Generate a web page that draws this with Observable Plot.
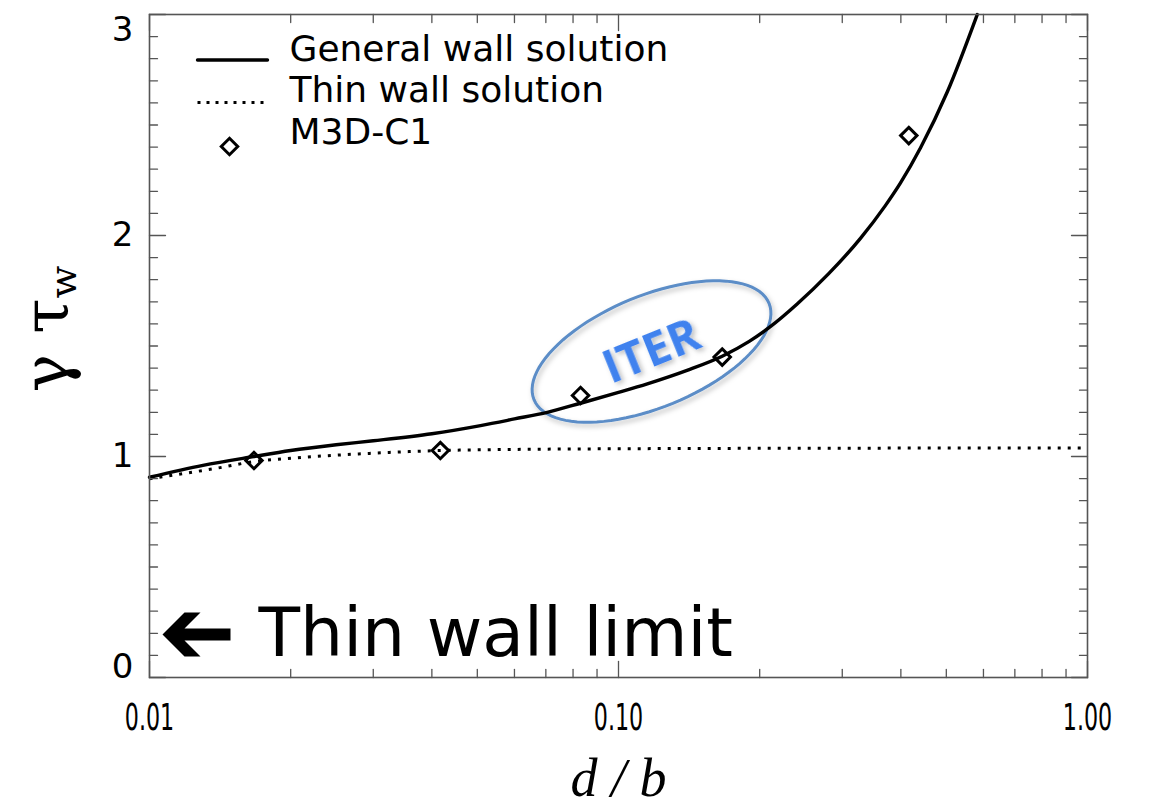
<!DOCTYPE html>
<html>
<head>
<meta charset="utf-8">
<script src="https://cdn.jsdelivr.net/npm/d3@7"></script>
<script src="https://cdn.jsdelivr.net/npm/@observablehq/plot@0.6"></script>
<style>
  html, body { margin: 0; padding: 0; background: #fff; }
  #chart { width: 1156px; height: 809px; }
</style>
</head>
<body>
<div id="chart"></div>
<script>
// Resistive-wall-mode growth rate γτ_w versus wall thickness d/b

// General (finite-thickness) wall solution
const generalD = [0.01, 0.013, 0.0167, 0.02, 0.025, 0.03, 0.04, 0.0508, 0.06, 0.0705, 0.083, 0.1, 0.1152, 0.14, 0.1664, 0.19, 0.21, 0.2404, 0.28, 0.328, 0.37, 0.399, 0.4406, 0.502, 0.582];
const generalG = [0.906, 0.96, 1.0, 1.027, 1.053, 1.071, 1.103, 1.14, 1.17, 1.2, 1.241, 1.29, 1.329, 1.39, 1.454, 1.521, 1.585, 1.69, 1.825, 1.987, 2.133, 2.237, 2.397, 2.648, 3.0];

// Thin wall solution
const thinD = [0.01, 0.012, 0.014, 0.0167, 0.02, 0.025, 0.03, 0.0417, 0.06, 0.1, 0.2, 0.5, 1.0];
const thinG = [0.899, 0.925, 0.948, 0.977, 0.992, 1.006, 1.015, 1.027, 1.032, 1.035, 1.037, 1.038, 1.038];

// M3D-C1 simulation results
const m3dD = [0.0167, 0.0417, 0.083, 0.1664, 0.4159];
const m3dG = [0.982, 1.027, 1.276, 1.45, 2.452];

// Axis ticks
const xMajor = [0.01, 0.1, 1];
const xMinor = [0.02, 0.03, 0.04, 0.05, 0.06, 0.07, 0.08, 0.09, 0.2, 0.3, 0.4, 0.5, 0.6, 0.7, 0.8, 0.9];
const yMajor = [0, 1, 2, 3];
const yMinor = d3.range(1, 30).filter(i => i % 10 !== 0).map(i => i / 10);

// Legend and annotations
const legendLabels = ["General wall solution", "Thin wall solution", "M3D-C1"];
const iterSpot = [{d: 0.1176, g: 1.475, label: "ITER"}];
const limitLabel = ["Thin wall limit"];

const general = generalD.map((d, i) => ({d, g: generalG[i]}));
const thin = thinD.map((d, i) => ({d, g: thinG[i]}));
const m3d = m3dD.map((d, i) => ({d, g: m3dG[i]}));

const frameColor = "#555";
const iterRing = "#5b8dc7";
const sansFont = "'DejaVu Sans', sans-serif";

// A straight stroke from the anchor in the vector's direction (inward ticks, legend swatches)
const stroke = { draw(ctx, l) { ctx.moveTo(0, 0); ctx.lineTo(0, -l); } };
// A solid block arrow (shaft plus chevron head) pointing along the vector
const blockArrow = {
  draw(ctx, l) {
    const s = l / 68;
    const P = [[0, 68], [22, 46], [22, 30], [6, 46], [6, 0], [-6, 0], [-6, 46], [-22, 30], [-22, 46]];
    P.forEach(([v, u], i) => (i ? ctx.lineTo(v * s, -u * s) : ctx.moveTo(v * s, -u * s)));
    ctx.closePath();
  }
};
// Tilted ellipse outline around the ITER cases
const ellipse = {
  draw(ctx) {
    const a = 127, b = 56, th = -22.3 * Math.PI / 180, n = 96;
    for (let i = 0; i <= n; ++i) {
      const t = (2 * Math.PI * i) / n;
      const x = a * Math.cos(t) * Math.cos(th) - b * Math.sin(t) * Math.sin(th);
      const y = a * Math.cos(t) * Math.sin(th) + b * Math.sin(t) * Math.cos(th);
      i ? ctx.lineTo(x, y) : ctx.moveTo(x, y);
    }
    ctx.closePath();
  }
};

const tickOpts = {shape: stroke, anchor: "start", stroke: frameColor, strokeWidth: 1.3};
const yLabelOpts = {anchor: "left", tickSize: 0, tickPadding: 16, tickFormat: d3.format("d"), fontSize: 34, fontFamily: sansFont, label: null};

const chart = Plot.plot({
  width: 1156,
  height: 809,
  marginLeft: 149,
  marginRight: 69,
  marginTop: 14,
  marginBottom: 132,
  x: {type: "log", domain: [0.01, 1], label: null, axis: null},
  y: {domain: [0, 3], label: null},
  style: {background: "white", color: "black", overflow: "visible"},
  marks: [
    // ITER ellipse
    Plot.dot(iterSpot, {x: "d", y: "g", symbol: ellipse, fill: "none", stroke: iterRing, strokeWidth: 3}),

    // curves and simulation points
    Plot.line(thin, {x: "d", y: "g", stroke: "black", strokeWidth: 3, strokeDasharray: "3,7", strokeLinecap: "butt", curve: "monotone-x"}),
    Plot.line(general, {x: "d", y: "g", stroke: "black", strokeWidth: 3.4, curve: "monotone-x"}),
    Plot.dot(m3d, {x: "d", y: "g", symbol: "diamond2", r: 7.4, stroke: "black", strokeWidth: 3, fill: "none"}),

    // ITER label
    Plot.text(iterSpot, {x: "d", y: "g", text: "label", rotate: -22, fontSize: 47, fontWeight: 700, fontFamily: "'Open Sans', sans-serif", fill: "#3f82ee"}),

    // frame and inward ticks on all four sides
    Plot.frame({stroke: frameColor, strokeWidth: 1.6}),
    Plot.vector(xMinor, {x: d => d, frameAnchor: "bottom", length: 8, ...tickOpts}),
    Plot.vector(xMajor, {x: d => d, frameAnchor: "bottom", length: 16, ...tickOpts}),
    Plot.vector(xMinor, {x: d => d, frameAnchor: "top", rotate: 180, length: 8, ...tickOpts}),
    Plot.vector(xMajor, {x: d => d, frameAnchor: "top", rotate: 180, length: 16, ...tickOpts}),
    Plot.vector(yMinor, {y: d => d, frameAnchor: "left", rotate: 90, length: 8, ...tickOpts}),
    Plot.vector(yMajor, {y: d => d, frameAnchor: "left", rotate: 90, length: 16, ...tickOpts}),
    Plot.vector(yMinor, {y: d => d, frameAnchor: "right", rotate: -90, length: 8, ...tickOpts}),
    Plot.vector(yMajor, {y: d => d, frameAnchor: "right", rotate: -90, length: 16, ...tickOpts}),

    // tick labels
    Plot.text(xMajor, {x: d => d, text: d3.format(".2f"), frameAnchor: "bottom", dy: 26, lineAnchor: "top", fontSize: 37, fontFamily: sansFont}),
    Plot.axisY([1, 2], yLabelOpts),
    Plot.axisY([3], {...yLabelOpts, dy: 16}),
    Plot.axisY([0], {...yLabelOpts, dy: -10}),

    // x-axis title
    Plot.text(["d / b"], {frameAnchor: "bottom", dy: 118, fontSize: 54, fontStyle: "italic", fontFamily: "'Liberation Serif', 'DejaVu Serif', serif"}),

    // legend
    Plot.vector([legendLabels[0]], {frameAnchor: "top-left", dx: 48, dy: 45.5, rotate: 90, length: 70, anchor: "start", shape: stroke, stroke: "black", strokeWidth: 3.4}),
    Plot.vector([legendLabels[1]], {frameAnchor: "top-left", dx: 48, dy: 88, rotate: 90, length: 70, anchor: "start", shape: stroke, stroke: "black", strokeWidth: 3, strokeDasharray: "3,6", strokeLinecap: "butt"}),
    Plot.dot([legendLabels[2]], {frameAnchor: "top-left", dx: 80, dy: 132, symbol: "diamond2", r: 7.4, stroke: "black", strokeWidth: 3, fill: "none"}),
    ...legendLabels.map((label, i) =>
      Plot.text([label], {frameAnchor: "top-left", dx: 140, dy: 46 + i * 41.7, textAnchor: "start", lineAnchor: "bottom", fontSize: 36, letterSpacing: 2.9, fontFamily: sansFont})
    ),

    // thin-wall-limit annotation
    Plot.vector(limitLabel, {frameAnchor: "bottom-left", dx: 81, dy: -43, rotate: -90, length: 68, anchor: "start", shape: blockArrow, fill: "black", stroke: "none"}),
    Plot.text(limitLabel, {frameAnchor: "bottom-left", dx: 109, dy: -22, textAnchor: "start", lineAnchor: "bottom", fontSize: 68, fontFamily: sansFont})
  ]
});

document.getElementById("chart").appendChild(chart);

const svg = d3.select(chart);

// soft drop shadow for the ITER highlight
const defs = svg.insert("defs", ":first-child");
defs.append("filter").attr("id", "soft-shadow").attr("x", "-20%").attr("y", "-20%").attr("width", "140%").attr("height", "140%")
  .append("feDropShadow").attr("dx", 2).attr("dy", 3).attr("stdDeviation", 2.5).attr("flood-color", "#000").attr("flood-opacity", 0.25);
svg.selectAll(`g[stroke="${iterRing}"]`).attr("filter", "url(#soft-shadow)");
svg.selectAll("text").filter(function () { return this.textContent === "ITER"; }).attr("filter", "url(#soft-shadow)");

// narrow the x tick labels horizontally
svg.selectAll("text").filter(function () { return /^\d\.\d\d$/.test(this.textContent); }).each(function () {
  const t = this.getAttribute("transform") || "";
  const x = this.getAttribute("x");
  if (x && +x) {
    this.removeAttribute("x");
    this.setAttribute("transform", `${t} translate(${x},0) scale(0.6,1)`);
  } else {
    this.setAttribute("transform", `${t} scale(0.6,1)`);
  }
});

// y-axis title γτ_w
const ytitle = svg.append("text")
  .attr("transform", "translate(68,329) rotate(-90)")
  .attr("text-anchor", "middle")
  .attr("font-family", "'DejaVu Serif', serif")
  .attr("font-size", 64)
  .attr("fill", "black");
ytitle.append("tspan").text("γ τ");
ytitle.append("tspan").attr("font-size", 38).attr("dy", 8).text("w");
</script>
</body>
</html>
